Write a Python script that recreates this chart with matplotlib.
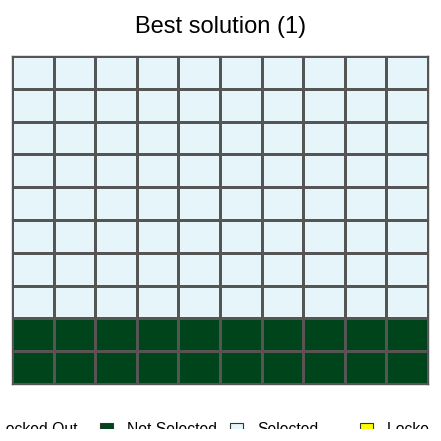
import numpy as np
import matplotlib
matplotlib.use('Agg')
import matplotlib.pyplot as plt
from matplotlib.colors import ListedColormap
from matplotlib.patches import Rectangle

plt.rcParams['font.family'] = ['Liberation Sans', 'DejaVu Sans']

# planning units, 10 x 10 grid (0 = locked out, 1 = not selected, 2 = selected, 3 = locked in)
grid = [
    [2, 2, 2, 2, 2, 2, 2, 2, 2, 2],
    [2, 2, 2, 2, 2, 2, 2, 2, 2, 2],
    [2, 2, 2, 2, 2, 2, 2, 2, 2, 2],
    [2, 2, 2, 2, 2, 2, 2, 2, 2, 2],
    [2, 2, 2, 2, 2, 2, 2, 2, 2, 2],
    [2, 2, 2, 2, 2, 2, 2, 2, 2, 2],
    [2, 2, 2, 2, 2, 2, 2, 2, 2, 2],
    [2, 2, 2, 2, 2, 2, 2, 2, 2, 2],
    [1, 1, 1, 1, 1, 1, 1, 1, 1, 1],
    [1, 1, 1, 1, 1, 1, 1, 1, 1, 1],
]
status_labels = ['Locked Out', 'Not Selected', 'Selected', 'Locked In']
status_colors = ['#bebebe', '#00441b', '#e5f5f9', '#ffff00']

fig = plt.figure(figsize=(4.41, 4.41), dpi=100)
ax = fig.add_axes([12 / 441, 1 - 384 / 441, 416 / 441, 328 / 441])

cmap = ListedColormap(status_colors)
ax.pcolormesh(np.array(grid)[::-1], cmap=cmap, vmin=-0.5, vmax=3.5,
              edgecolors='#555555', linewidth=1)
ax.set_xlim(0, 10)
ax.set_ylim(0, 10)
ax.set_xticks([])
ax.set_yticks([])
for s in ax.spines.values():
    s.set_color('#555555')
    s.set_linewidth(1)

fig.text(0.5, 1 - 27 / 441, 'Best solution (1)', ha='center', va='center', fontsize=17)

# legend strip, in pixel coords, clipped at bottom and right like the original
leg = fig.add_axes([0, 12 / 441, 429 / 441, 30 / 441])
leg.set_xlim(0, 429)
leg.set_ylim(429, 399)
leg.axis('off')
for i, (lab, col) in enumerate(zip(status_labels, status_colors)):
    x0 = -30 + 130 * i
    leg.add_patch(Rectangle((x0, 423), 13, 12, facecolor=col, edgecolor='#333333',
                            linewidth=0.8, clip_on=True))
    leg.text(x0 + 27, 434, lab, fontsize=11.3, va='baseline', ha='left', clip_on=True)

fig.savefig('out.png', dpi=100)
